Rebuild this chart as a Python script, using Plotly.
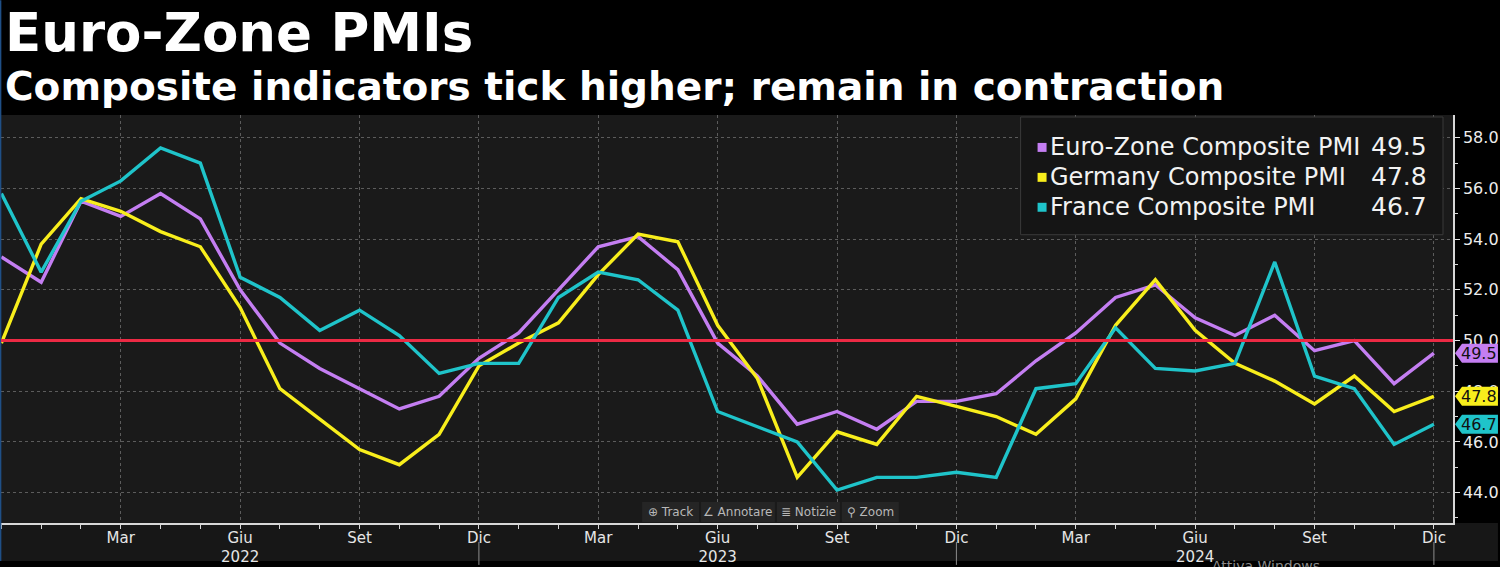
import plotly.graph_objects as go

# ---------------- data ----------------
months = ["Dic", "Gen", "Feb", "Mar", "Apr", "Mag", "Giu", "Lug", "Ago", "Set", "Ott", "Nov",
          "Dic", "Gen", "Feb", "Mar", "Apr", "Mag", "Giu", "Lug", "Ago", "Set", "Ott", "Nov",
          "Dic", "Gen", "Feb", "Mar", "Apr", "Mag", "Giu", "Lug", "Ago", "Set", "Ott", "Nov",
          "Dic"]
years = [2021] + [2022] * 12 + [2023] * 12 + [2024] * 12

euro_zone = [53.3, 52.3, 55.5, 54.9, 55.8, 54.8, 52.0, 49.9, 48.9, 48.1, 47.3, 47.8,
             49.3, 50.3, 52.0, 53.7, 54.1, 52.8, 49.9, 48.6, 46.7, 47.2, 46.5, 47.6,
             47.6, 47.9, 49.2, 50.3, 51.7, 52.2, 50.9, 50.2, 51.0, 49.6, 50.0, 48.3,
             49.5]
germany = [49.9, 53.8, 55.6, 55.1, 54.3, 53.7, 51.3, 48.1, 46.9, 45.7, 45.1, 46.3,
           49.0, 49.9, 50.7, 52.6, 54.2, 53.9, 50.6, 48.5, 44.6, 46.4, 45.9, 47.8,
           47.4, 47.0, 46.3, 47.7, 50.6, 52.4, 50.4, 49.1, 48.4, 47.5, 48.6, 47.2,
           47.8]
france = [55.8, 52.7, 55.5, 56.3, 57.6, 57.0, 52.5, 51.7, 50.4, 51.2, 50.2, 48.7,
          49.1, 49.1, 51.7, 52.7, 52.4, 51.2, 47.2, 46.6, 46.0, 44.1, 44.6, 44.6,
          44.8, 44.6, 48.1, 48.3, 50.5, 48.9, 48.8, 49.1, 53.1, 48.6, 48.1, 45.9,
          46.7]

series_names = ["Euro-Zone Composite PMI", "Germany Composite PMI", "France Composite PMI"]
series_values = [euro_zone, germany, france]
series_colors = ["#c47ef2", "#f8ee1c", "#1fc4ca"]

threshold = 50.0
y_ticks = [44, 46, 48, 50, 52, 54, 56, 58]
labeled_months = ["Mar", "Giu", "Set", "Dic"]

title = "Euro-Zone PMIs"
subtitle = "Composite indicators tick higher; remain in contraction"

# ---------------- figure ----------------
W, H = 1500, 567
PL, PR, PT, PB = 1, 1455, 115, 524


def px(x):
    return (x - PL) / (PR - PL)


def py(y):
    return (PB - y) / (PB - PT)


xs = list(range(len(months)))
tick_idx = [i for i, m in enumerate(months) if m in labeled_months]
tick_txt = [f"{months[i]}<br>{years[i]}" if months[i] == "Giu" else months[i] for i in tick_idx]
dic_idx = [i for i, m in enumerate(months) if m == "Dic" and i > 0]

fig = go.Figure()
for name, vals, col in zip(series_names, series_values, series_colors):
    fig.add_trace(go.Scatter(x=xs, y=vals, mode="lines", name=name,
                             line=dict(color=col, width=3.4), showlegend=False,
                             hoverinfo="skip"))

FONT = "DejaVu Sans"
shapes = []
annos = []

# bottom label strip
shapes.append(dict(type="rect", xref="paper", yref="paper", x0=px(0), x1=px(1500),
                   y0=py(524), y1=py(562), fillcolor="#171717", line=dict(width=0), layer="below"))
# left blue window border
shapes.append(dict(type="line", xref="paper", yref="paper", x0=px(0.6), x1=px(0.6),
                   y0=py(0), y1=py(562), line=dict(color="#1f4f86", width=1.5), layer="above"))
# threshold line
shapes.append(dict(type="line", xref="paper", yref="y", x0=0, x1=1, y0=threshold, y1=threshold,
                   line=dict(color="#ec2a44", width=3), layer="above"))
# year separators
for i in dic_idx:
    shapes.append(dict(type="line", xref="x", yref="paper", x0=i, x1=i, y0=py(543), y1=py(566),
                       line=dict(color="#8c8c8c", width=1), layer="above"))

# legend box
shapes.append(dict(type="rect", xref="paper", yref="paper", x0=px(1022), x1=px(1445),
                   y0=py(235), y1=py(117), fillcolor="#151515",
                   line=dict(color="#3a3a3a", width=1), layer="above"))
row_y = [147, 177, 207]
for name, vals, col, ry in zip(series_names, series_values, series_colors, row_y):
    shapes.append(dict(type="rect", xref="paper", yref="paper", x0=px(1039), x1=px(1048),
                       y0=py(ry + 5), y1=py(ry - 4), fillcolor=col, line=dict(width=0), layer="above"))
    annos.append(dict(text=name, xref="paper", yref="paper", x=px(1049), y=py(ry),
                      xanchor="left", yanchor="middle", showarrow=False,
                      font=dict(family=FONT, size=24, color="#f2f2f2")))
    annos.append(dict(text=f"{vals[-1]:.1f}", xref="paper", yref="paper", x=px(1431), y=py(ry),
                      xanchor="right", yanchor="middle", showarrow=False,
                      font=dict(family=FONT, size=25, color="#f2f2f2")))

# last value tags on the axis
half = 9.5 / ((PB - PT) / (58.9 - 42.8))
for vals, col in zip(series_values, series_colors):
    v = vals[-1]
    x0, x1, x2 = px(1457), px(1464), px(1500)
    path = (f"M {x0} {v} L {x1} {v + half} L {x2} {v + half} "
            f"L {x2} {v - half} L {x1} {v - half} Z")
    shapes.append(dict(type="path", xref="paper", yref="y", path=path, fillcolor=col,
                       line=dict(width=0), layer="above"))
    annos.append(dict(text=f"{v:.1f}", xref="paper", yref="y", x=px(1481), y=v,
                      xanchor="center", yanchor="middle", showarrow=False,
                      font=dict(family=FONT, size=16, color="#111111")))

# toolbar artifacts
buttons = [("⊕ Track", 643, 700), ("∠ Annotare", 702, 776), ("≣ Notizie", 778, 841), ("⚲ Zoom", 843, 900)]
for txt, a, b in buttons:
    shapes.append(dict(type="rect", xref="paper", yref="paper", x0=px(a), x1=px(b),
                       y0=py(523), y1=py(503), fillcolor="#252525", line=dict(width=0), layer="above"))
    annos.append(dict(text=txt, xref="paper", yref="paper", x=px((a + b) / 2), y=py(513),
                      xanchor="center", yanchor="middle", showarrow=False,
                      font=dict(family=FONT, size=12, color="#b8b8b8")))

# watermark artifact
annos.append(dict(text="Attiva Windows", xref="paper", yref="paper", x=px(1268), y=py(557),
                  xanchor="center", yanchor="top", showarrow=False,
                  font=dict(family=FONT, size=14, color="#8a8a8a")))

# titles
annos.append(dict(text=f"<b>{title}</b>", xref="paper", yref="paper", x=px(3), y=py(32),
                  xanchor="left", yanchor="middle", showarrow=False,
                  font=dict(family=FONT, size=53, color="#ffffff")))
annos.append(dict(text=f"<b>{subtitle}</b>", xref="paper", yref="paper", x=px(3), y=py(86),
                  xanchor="left", yanchor="middle", showarrow=False,
                  font=dict(family=FONT, size=39, color="#ffffff")))

fig.update_layout(
    width=W, height=H,
    margin=dict(l=PL, r=W - PR, t=PT, b=H - PB),
    paper_bgcolor="#000000", plot_bgcolor="#1a1a1a",
    shapes=shapes, annotations=annos,
    font=dict(family=FONT, color="#e6e6e6"),
)
fig.update_xaxes(
    range=[-0.01, 36.48], tickmode="array", tickvals=tick_idx, ticktext=tick_txt,
    showgrid=True, gridcolor="#5c5c5c", griddash="dot", gridwidth=1,
    showline=True, linecolor="#d8d8d8", linewidth=1.5, zeroline=False,
    ticks="", minor=dict(ticks="outside", ticklen=4, tickcolor="#d8d8d8", tick0=0, dtick=1, showgrid=False),
    tickfont=dict(family=FONT, size=15, color="#e6e6e6"),
)
fig.update_yaxes(
    side="right", range=[42.8, 58.9], tickmode="array", tickvals=y_ticks, tickformat=".1f",
    showgrid=True, gridcolor="#5c5c5c", griddash="dot", gridwidth=1,
    showline=True, linecolor="#d8d8d8", linewidth=1.5, zeroline=False,
    ticks="outside", ticklen=5, tickcolor="#e6e6e6",
    minor=dict(ticks="outside", ticklen=3, tickcolor="#d8d8d8", tick0=43, dtick=2, showgrid=False),
    tickfont=dict(family=FONT, size=16, color="#ececec"),
)

fig.write_html("out.html", config={"displayModeBar": False},
               post_script="document.body.style.margin='0px';document.body.style.background='#000';")
